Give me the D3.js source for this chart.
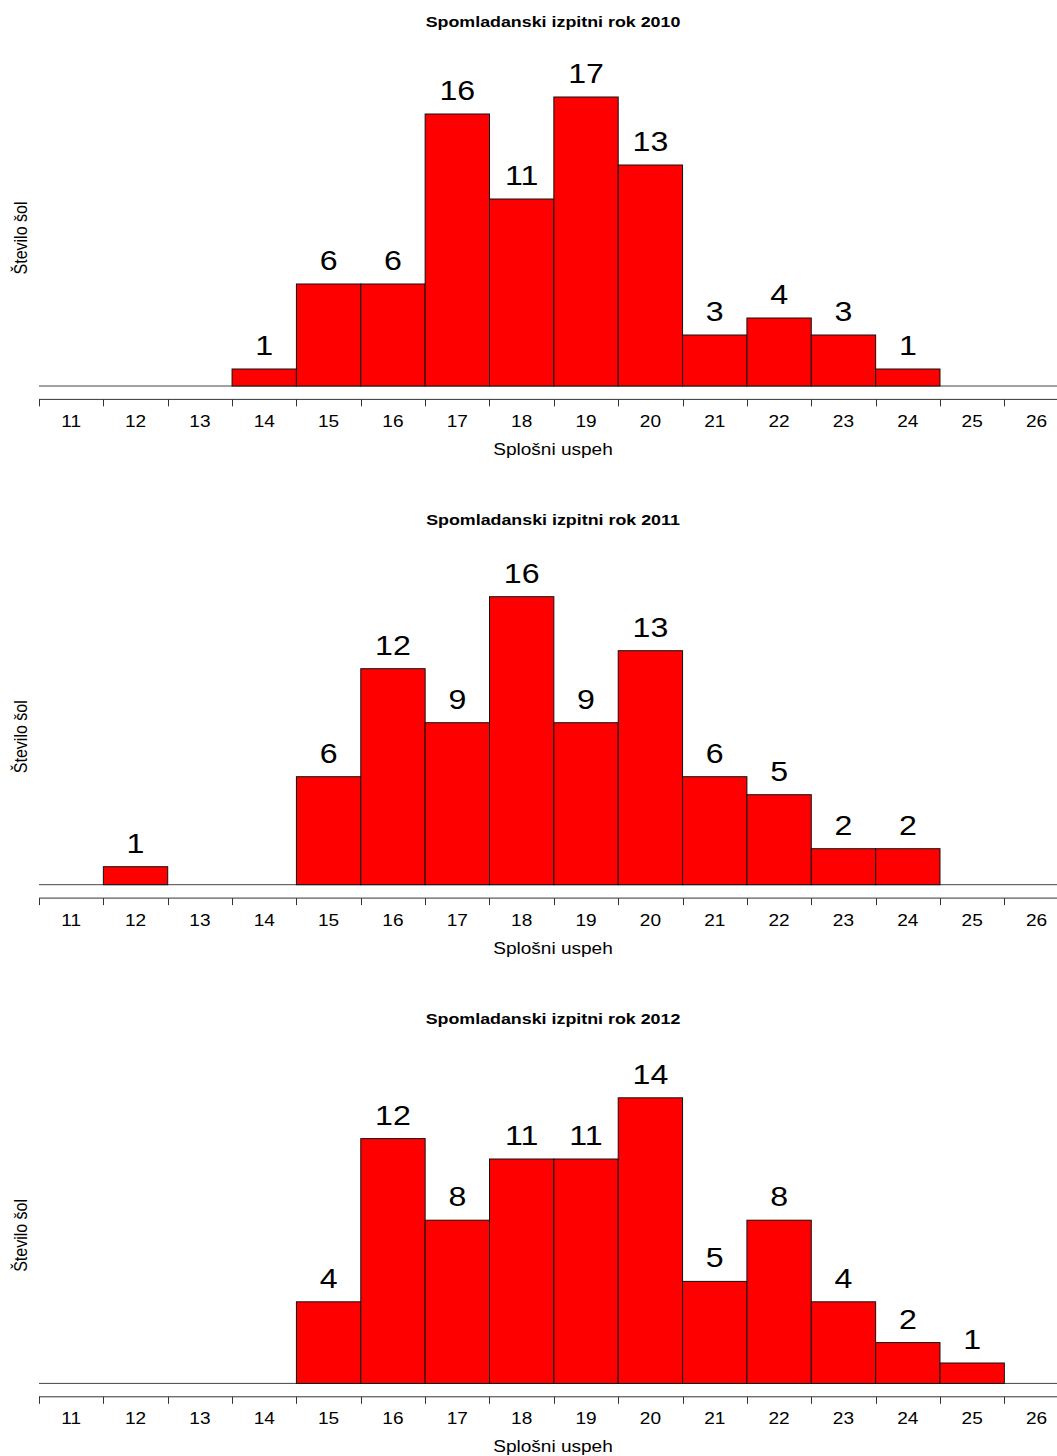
<!DOCTYPE html>
<html>
<head>
<meta charset="utf-8">
<script src="https://cdn.jsdelivr.net/npm/d3@7"></script>
<style>
  body { margin: 0; background: #fff; }
  text { font-family: "Liberation Sans", Arial, sans-serif; fill: #000; }
</style>
</head>
<body>
<div id="chart"></div>
<script>
// grade categories (x axis)
const grades = [11, 12, 13, 14, 15, 16, 17, 18, 19, 20, 21, 22, 23, 24, 25, 26];
const years = [2010, 2011, 2012];

// number of schools per grade, one array per exam year
const counts2010 = [0, 0, 0, 1, 6, 6, 16, 11, 17, 13, 3, 4, 3, 1, 0, 0];
const counts2011 = [0, 1, 0, 0, 6, 12, 9, 16, 9, 13, 6, 5, 2, 2, 0, 0];
const counts2012 = [0, 0, 0, 0, 4, 12, 8, 11, 11, 14, 5, 8, 4, 2, 1, 0];

const titlePrefix = 'Spomladanski izpitni rok ';
const xTitle = 'Splošni uspeh';
const yTitle = 'Število šol';

const panels = [
  {year: years[0], counts: counts2010},
  {year: years[1], counts: counts2011},
  {year: years[2], counts: counts2012}
];

const width = 1057, height = 1456;
const panelStep = 498.7;
const stretch = 1.19;   // text in the reference looks a bit wide

const svg = d3.select('#chart').append('svg')
    .attr('width', width)
    .attr('height', height);

const x = d3.scaleLinear()
    .domain([grades[0] - 0.5, grades[grades.length - 1] + 0.5])
    .range([39, 1068.7]);

function label(g, txt, px, py, size, weight) {
  return g.append('text')
      .attr('transform', `translate(${px},${py}) scale(${stretch},1)`)
      .attr('text-anchor', 'middle')
      .style('font-size', size + 'px')
      .style('font-weight', weight || 'normal')
      .text(txt);
}

panels.forEach((p, i) => {
  const g = svg.append('g')
      .attr('transform', `translate(0, ${i * panelStep})`);

  const base = 386;
  const y = d3.scaleLinear()
      .domain([0, d3.max(p.counts) + 1])
      .range([base, base - 306]);

  const data = grades.map((gr, j) => ({grade: gr, n: p.counts[j]}));

  // title
  label(g, titlePrefix + p.year, 553, 26.5, 15, 'bold');

  // baseline
  g.append('line')
      .attr('x1', x.range()[0]).attr('x2', width)
      .attr('y1', base).attr('y2', base)
      .attr('stroke', '#444').attr('stroke-width', 1);

  // bars
  g.selectAll('.bar')
    .data(data.filter(d => d.n > 0))
    .join('rect')
      .attr('class', 'bar')
      .attr('x', d => x(d.grade - 0.5))
      .attr('width', d => x(d.grade + 0.5) - x(d.grade - 0.5))
      .attr('y', d => y(d.n))
      .attr('height', d => base - y(d.n))
      .attr('fill', '#ff0000')
      .attr('stroke', '#111')
      .attr('stroke-width', 1);

  // counts above bars
  data.filter(d => d.n > 0).forEach(d => {
    label(g, d.n, x(d.grade), y(d.n) - 14, 27);
  });

  // x axis: line with ticks at bin edges
  const axisY = base + 13.4;
  g.append('line')
      .attr('x1', x.range()[0]).attr('x2', width)
      .attr('y1', axisY).attr('y2', axisY)
      .attr('stroke', '#333');
  g.selectAll('.tick')
    .data(grades.map(gr => gr - 0.5))
    .join('line')
      .attr('class', 'tick')
      .attr('x1', d => Math.round(x(d)) + 0.5).attr('x2', d => Math.round(x(d)) + 0.5)
      .attr('y1', axisY).attr('y2', axisY + 7)
      .attr('stroke', '#333');

  grades.forEach(gr => label(g, gr, x(gr), 427, 16));

  label(g, xTitle, 553, 455, 16);

  g.append('text')
      .attr('transform', `translate(26.5, 238) scale(${stretch},1) rotate(-90)`)
      .attr('text-anchor', 'middle')
      .style('font-size', '16px')
      .text(yTitle);
});
</script>
</body>
</html>
